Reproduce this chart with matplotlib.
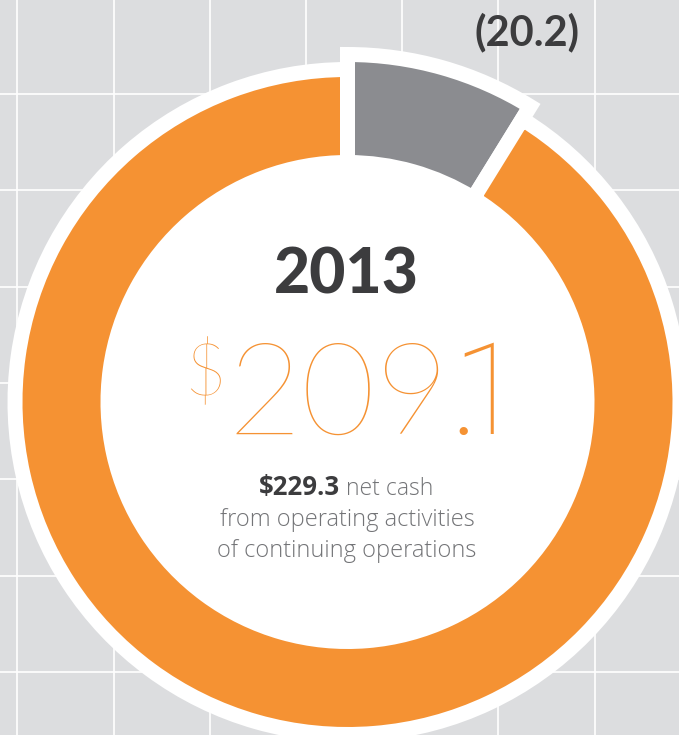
import matplotlib
matplotlib.use("Agg")
import matplotlib.pyplot as plt
from matplotlib.patches import Circle

# ---- data ----
categories = ["Discontinued operations", "Net cash"]
values = [20.2, 209.1]
total_continuing = 229.3
year_label = "2013"
gray_label = "(20.2)"
main_label = "209.1"

# ---- style ----
BG = "#dcdddf"
ORANGE = "#f59233"
GRAY = "#8b8c90"
DARK = "#3c3c3e"
LIGHT = "#737477"
W, H = 679, 735

fig = plt.figure(figsize=(W / 100, H / 100), dpi=100, facecolor=BG)
ax = fig.add_axes([0, 0, 1, 1])
ax.set_facecolor(BG)

# background grid
for gx in [17.3, 113.5, 209.7, 306.0, 402.0, 498.3, 594.5]:
    ax.plot([gx, gx], [0, H], color="white", lw=1.2, zorder=0)
for gy in [94.0, 190.3, 286.7, 383.0, 479.3, 575.7, 672.0]:
    ax.plot([0, W], [H - gy, H - gy], color="white", lw=1.2, zorder=0)

cx, cy = 347.5, H - 402
lw_px = 15
lw = lw_px * 0.72

# white backing disk
ax.add_patch(Circle((cx, cy), 334, facecolor="white", edgecolor="none", zorder=1))

inner_true = 247 - lw_px / 2
# gray (larger) wedge
r_gray = 340 + lw_px / 2
wg, _ = ax.pie(values, radius=r_gray, center=(cx, cy), startangle=90,
               counterclock=False, colors=[GRAY, ORANGE], frame=True,
               wedgeprops=dict(width=r_gray - inner_true, edgecolor="white",
                               linewidth=lw))
wg[1].set_visible(False)
wg[0].set_clip_path(Circle((cx, cy), 352, transform=ax.transData))
wg[0].set_zorder(2)

# orange ring
r_or = 325 + lw_px / 2
wo, _ = ax.pie(values, radius=r_or, center=(cx, cy), startangle=90,
               counterclock=False, colors=[GRAY, ORANGE], frame=True,
               wedgeprops=dict(width=r_or - inner_true, edgecolor="white",
                               linewidth=lw))
wo[0].set_visible(False)
wo[1].set_clip_path(Circle((cx, cy), 334, transform=ax.transData))
wo[1].set_zorder(3)

ax.set_xlim(0, W)
ax.set_ylim(0, H)
ax.set_aspect("equal")
ax.axis("off")

LATO = ["Lato", "DejaVu Sans"]
OPEN = ["Open Sans", "DejaVu Sans"]
ROBO = ["Roboto", "DejaVu Sans"]

# labels
ax.text(527, H - 45, gray_label, ha="center", va="baseline", fontsize=30,
        fontweight="bold", color=DARK, family=LATO, zorder=5)
ax.text(346, H - 293, year_label, ha="center", va="baseline", fontsize=45,
        fontweight="black", color=DARK, family=LATO, zorder=5)
ax.text(205, H - 395, "$", ha="center", va="baseline", fontsize=52,
        fontweight="light", color=ORANGE, family=LATO, zorder=5)
ax.text(339, H - 434, main_label[:3], ha="center", va="baseline", fontsize=92,
        fontweight="light", color=ORANGE, family=LATO, zorder=5)
ax.text(463, H - 434, main_label[3], ha="center", va="baseline", fontsize=92,
        fontweight="light", color=ORANGE, family=LATO, zorder=5)
ax.text(487, H - 434, main_label[4], ha="center", va="baseline", fontsize=92,
        fontweight="light", color=ORANGE, family=ROBO, zorder=5)

ax.text(340, H - 495, f"${total_continuing}", ha="right", va="baseline",
        fontsize=18.5, fontweight="bold", color=DARK, family=OPEN, zorder=5)
ax.text(346, H - 495, "net cash", ha="left", va="baseline",
        fontsize=16.5, fontweight="light", color=LIGHT, family=OPEN, zorder=5)
ax.text(347, H - 526, "from operating activities", ha="center", va="baseline",
        fontsize=17, fontweight="light", color=LIGHT, family=OPEN, zorder=5)
ax.text(347, H - 557, "of continuing operations", ha="center", va="baseline",
        fontsize=17, fontweight="light", color=LIGHT, family=OPEN, zorder=5)

fig.savefig("out.png", dpi=100, facecolor=BG)
